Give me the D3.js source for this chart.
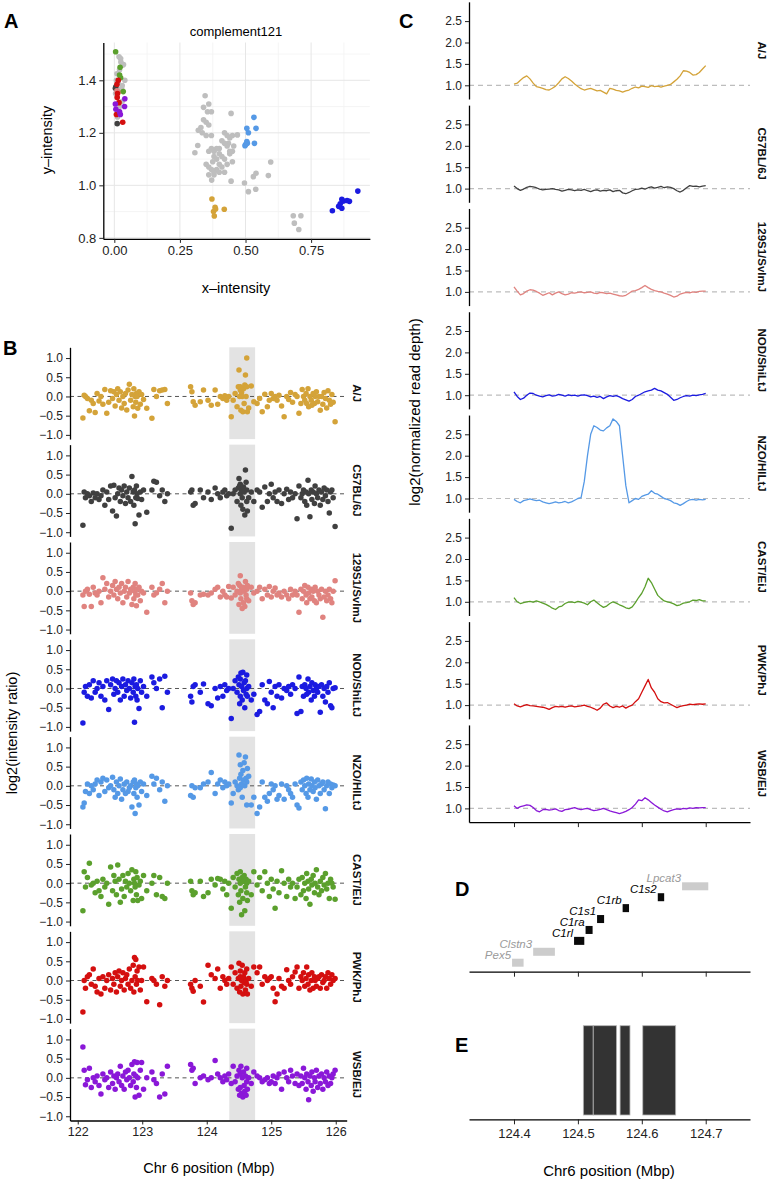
<!DOCTYPE html>
<html><head><meta charset="utf-8">
<script src="https://cdn.jsdelivr.net/npm/d3@7"></script>
<style>body{margin:0;background:#fff}svg{display:block}</style>
</head><body><svg id="c" width="768" height="1180"></svg>
<script>
const FONT = '"Liberation Sans", Arial, Helvetica, sans-serif';

// ---------- shared ----------
const strains = ["A/J","C57BL/6J","129S1/SvImJ","NOD/ShiLtJ","NZO/HlLtJ","CAST/EiJ","PWK/PhJ","WSB/EiJ"];
const strainColors = ["#D4A339","#404040","#E0837F","#1B1BE0","#5599E6","#5BA02D","#D40F0F","#8A18D8"];

// ---------- panel A ----------
const grayX = [0.024,0.032,0.040,0.010,0.035,0.020,0.015,0.028,0.005,0.020,0.012,0.030,0.025,0.018,0.008,0.030,
 0.346,0.340,0.360,0.355,0.370,0.340,0.350,0.330,0.320,0.335,0.360,0.350,0.370,0.445,0.420,0.430,0.440,0.450,0.469,0.435,
 0.430,0.420,0.410,0.400,0.390,0.380,0.370,0.360,0.380,0.390,0.400,0.410,0.420,0.440,0.450,0.430,0.410,0.400,0.390,0.380,
 0.370,0.360,0.350,0.360,0.371,0.380,0.400,0.420,0.450,0.445,0.318,0.307,0.440,0.455,0.375,
 0.496,0.511,0.539,0.530,0.540,0.587,0.596,0.682,0.711,0.686,0.703];
const grayY = [1.483,1.458,1.400,1.425,1.460,1.440,1.390,1.370,1.350,1.300,1.260,1.320,1.470,1.490,1.400,1.380,
 1.341,1.297,1.310,1.280,1.280,1.250,1.240,1.220,1.210,1.200,1.230,1.190,1.190,1.274,1.200,1.190,1.180,1.190,1.192,1.160,
 1.150,1.160,1.170,1.140,1.140,1.130,1.140,1.130,1.110,1.100,1.120,1.110,1.100,1.120,1.130,1.080,1.070,1.080,1.060,1.050,
 1.060,1.070,1.080,1.040,1.020,1.040,1.050,1.050,1.090,1.016,1.152,1.124,1.130,1.150,1.090,
 1.009,0.976,0.985,1.033,1.046,1.037,1.089,0.884,0.884,0.856,0.832];
const aStrainX = [
 [0.372,0.384,0.378,0.381,0.419,0.386],
 [0.011,0.006,0.004],
 [0.015,0.019,0.010],
 [0.831,0.867,0.861,0.874,0.896,0.928,0.855,0.867,0.887],
 [0.532,0.540,0.505,0.511,0.505,0.498,0.534,0.507,0.500],
 [0.005,0.022,0.024,0.034,0.020],
 [0.010,0.011,0.018,0.008,0.032,0.015,0.012],
 [0.004,0.040,0.039,0.023,0.006,0.020]];
const aStrainY = [
 [0.948,0.916,0.900,0.883,0.909,0.910],
 [1.235,1.375,1.370],
 [1.355,1.280,1.360],
 [0.903,0.947,0.930,0.940,0.939,0.978,0.920,0.913,0.942],
 [1.259,1.217,1.217,1.200,1.167,1.151,1.160,1.160,1.155],
 [1.509,1.450,1.410,1.357,1.420],
 [1.385,1.335,1.315,1.270,1.240,1.400,1.350],
 [1.310,1.330,1.300,1.270,1.290,1.280]];
const aXTicks = [0,0.25,0.5,0.75];
const aYTicks = [0.8,1.0,1.2,1.4];

// ---------- panel B ----------
const probePos = [
 122.08,122.10,122.12,122.15,122.18,122.21,122.24,122.27,122.30,122.33,
 122.36,122.39,122.42,122.45,122.48,122.51,122.54,122.56,122.58,122.60,
 122.62,122.64,122.66,122.68,122.70,122.72,122.74,122.76,122.78,122.80,
 122.82,122.84,122.86,122.87,122.88,122.89,122.90,122.91,122.92,122.93,
 122.95,122.97,122.99,123.02,123.07,123.15,123.18,123.22,123.27,123.31,
 123.35,123.39,
 123.75,123.77,123.79,123.82,123.90,123.95,124.02,124.07,124.13,124.17,
 124.21,124.25,124.28,124.31,124.34,
 124.38,124.41,124.44,124.47,124.49,124.50,124.51,124.52,124.52,124.53,
 124.54,124.55,124.56,124.57,124.58,124.59,124.60,124.61,124.62,124.62,
 124.63,124.65,124.69,124.73,
 124.78,124.82,124.86,124.90,124.94,124.97,125.00,125.03,125.06,125.09,
 125.12,125.16,125.20,125.24,125.27,125.30,125.33,125.37,
 125.40,125.43,125.46,125.48,125.50,125.52,125.54,125.55,125.57,125.58,
 125.60,125.62,125.63,125.65,125.67,125.68,125.70,125.72,125.74,125.76,
 125.78,125.80,125.82,125.84,125.86,125.88,125.90,125.92,125.94,125.96,
 125.99];
const ajB = [-0.56,0.03,0.0,-0.05,-0.37,-0.1,-0.18,-0.42,0.08,-0.12,
 0.0,-0.2,0.18,-0.44,-0.15,0.15,-0.05,0.12,-0.25,0.05,
 0.2,-0.1,0.12,-0.3,0.0,-0.18,0.08,-0.35,0.17,0.32,
 -0.1,0.05,-0.27,0.2,-0.51,0.0,-0.15,0.08,0.0,-0.31,
 0.12,-0.2,0.05,-0.08,-0.31,-0.57,0.18,0.0,0.15,0.17,
 0.18,-0.18,
 0.25,0.12,-0.14,-0.23,-0.14,0.17,-0.1,-0.23,0.17,-0.2,
 0.0,-0.05,0.02,-0.1,0.0,
 -0.53,-0.1,0.08,-0.27,0.25,0.69,0.0,0.17,0.25,-0.36,
 0.1,0.0,-0.4,0.2,-0.18,0.3,0.56,0.0,1.0,0.25,
 -0.4,-0.3,0.27,-0.14,
 -0.18,-0.05,-0.4,0.06,-0.27,-0.1,0.08,-0.05,0.0,-0.1,
 0.03,-0.25,-0.53,0.0,-0.08,0.1,-0.15,0.05,
 0.0,-0.44,-0.18,0.18,0.0,-0.1,0.08,-0.18,0.2,-0.27,
 0.0,-0.1,-0.23,0.08,-0.18,0.0,0.12,-0.14,0.0,-0.36,
 0.0,-0.2,0.1,-0.05,-0.3,0.15,-0.1,-0.2,0.05,-0.15,
 -0.66];
const b6B = [-0.82,0.05,-0.1,0.0,-0.05,-0.2,0.02,-0.1,0.0,-0.15,
 -0.05,0.1,-0.3,0.05,-0.15,0.2,-0.45,0.22,-0.1,-0.58,
 0.0,0.15,-0.2,0.1,-0.05,0.2,-0.25,0.05,-0.1,0.15,
 -0.2,0.45,0.05,-0.3,0.1,-0.78,-0.1,0.2,0.0,-0.12,
 -0.55,0.05,-0.15,0.1,-0.48,0.1,0.33,0.3,-0.05,0.1,
 -0.2,0.0,
 0.05,0.1,-0.3,-0.25,0.1,-0.1,0.05,-0.15,0.15,0.0,
 -0.1,0.05,0.1,-0.05,0.0,
 -0.9,0.0,0.1,-0.2,0.15,0.4,0.2,0.0,0.25,-0.3,
 0.1,-0.1,-0.4,0.18,0.05,-0.55,0.62,0.3,0.1,-0.2,
 -0.45,-0.1,0.05,-0.2,
 0.1,0.05,-0.35,0.18,-0.2,0.0,0.25,-0.1,0.05,-0.2,
 0.1,-0.25,0.0,0.12,-0.15,0.05,-0.1,0.0,
 -0.65,0.2,-0.1,0.0,0.1,-0.2,0.05,-0.3,0.35,0.0,
 -0.6,0.1,-0.15,0.05,-0.25,0.2,0.0,-0.1,0.1,-0.3,
 0.05,-0.15,0.15,-0.05,0.1,-0.2,-0.5,0.05,0.1,-0.1,
 -0.85];
const s129B = [-0.1,-0.4,0.0,0.05,-0.08,-0.4,0.1,-0.05,-0.1,0.0,
 -0.3,0.35,0.05,0.2,-0.15,0.0,0.15,-0.1,0.25,0.05,
 -0.2,0.1,-0.05,0.2,-0.3,0.0,0.1,-0.15,0.25,-0.05,
 0.05,-0.35,0.1,-0.2,0.0,0.2,-0.1,-0.38,0.05,-0.1,
 0.1,-0.25,0.0,-0.05,-0.55,0.1,-0.1,-0.05,0.05,0.2,
 -0.3,0.0,
 -0.05,-0.25,-0.35,-0.3,-0.1,-0.08,-0.1,-0.05,0.05,0.1,
 -0.15,0.0,-0.1,-0.15,0.12,
 -0.18,0.1,-0.1,0.0,0.2,-0.35,0.15,-0.05,0.4,-0.2,
 0.05,-0.45,0.1,-0.3,0.0,-0.4,0.25,-0.1,0.05,-0.2,
 0.15,-0.25,0.1,-0.05,
 0.0,0.1,-0.2,0.05,-0.1,0.12,-0.15,0.0,0.08,-0.1,
 -0.05,-0.15,0.0,-0.1,-0.2,0.05,-0.1,0.0,
 -0.1,-0.55,0.05,-0.2,0.0,0.15,-0.1,-0.3,0.1,-0.05,
 -0.2,0.05,-0.15,0.0,-0.25,0.1,-0.3,0.0,-0.1,-0.2,
 0.05,-0.68,-0.15,0.0,-0.25,-0.1,0.05,-0.2,-0.3,0.0,
 0.27];
const nodB = [-0.9,-0.1,0.05,-0.2,0.1,-0.25,0.2,-0.1,0.0,0.15,
 -0.2,0.05,-0.3,0.2,-0.55,0.1,0.25,-0.15,0.0,0.2,
 -0.1,0.15,-0.3,0.05,0.25,-0.2,0.1,-0.05,0.2,0.0,
 -0.25,0.15,-0.1,0.25,-0.88,0.05,-0.2,0.1,-0.3,0.0,
 -0.52,0.2,-0.1,0.05,-0.2,0.3,0.15,0.0,0.25,-0.5,
 0.32,-0.1,
 -0.2,-0.35,0.05,0.1,-0.1,0.12,-0.4,-0.45,0.0,-0.25,
 0.05,-0.2,0.1,-0.05,0.0,
 -0.78,0.0,0.2,-0.1,0.3,0.1,-0.4,0.25,-0.2,0.4,
 0.05,-0.3,0.42,-0.05,0.15,-0.5,0.2,-0.15,0.0,0.35,
 -0.2,0.05,-0.3,-0.15,
 -0.68,-0.6,0.1,-0.3,-0.4,0.18,-0.1,-0.5,0.05,-0.2,
 0.1,-0.25,0.0,-0.05,0.05,-0.15,0.1,0.0,
 -0.65,0.3,-0.6,0.05,-0.2,0.1,0.0,-0.15,0.25,-0.1,
 0.05,-0.3,0.15,-0.05,-0.2,0.1,0.0,-0.1,0.05,-0.62,
 0.1,-0.2,0.0,-0.35,0.05,-0.1,0.15,-0.45,-0.5,0.0,
 0.02];
const nzoB = [-0.55,-0.45,-0.15,0.05,-0.2,0.0,-0.1,0.05,0.15,-0.25,
 0.1,0.2,-0.15,0.15,-0.05,0.0,0.22,-0.1,-0.3,0.1,
 -0.2,0.0,0.18,-0.35,-0.1,0.05,-0.2,0.1,-0.15,-0.05,
 0.0,-0.55,0.1,-0.2,0.15,-0.72,-0.05,0.05,-0.3,0.0,
 -0.5,0.1,-0.15,0.05,-0.25,0.25,0.05,0.2,-0.1,0.1,
 -0.4,0.0,
 -0.25,0.0,-0.3,-0.05,-0.05,0.05,0.1,0.35,-0.2,0.05,
 0.15,-0.05,0.1,0.0,0.05,
 -0.45,-0.2,0.1,0.0,-0.1,0.8,0.2,0.55,-0.05,0.3,
 0.05,-0.3,0.4,0.15,0.6,0.0,0.75,0.2,-0.5,0.1,
 0.45,0.25,-0.5,-0.3,
 -0.72,-0.55,0.1,-0.3,-0.4,-0.2,0.05,-0.1,0.0,-0.35,
 -0.25,0.05,-0.35,0.0,-0.1,-0.2,-0.3,0.05,
 -0.5,-0.58,0.1,-0.1,0.15,0.0,-0.2,0.2,-0.3,0.05,
 -0.1,0.18,0.0,-0.15,0.1,-0.05,-0.35,0.15,0.0,-0.2,
 0.05,0.1,-0.1,-0.6,0.0,0.1,-0.2,0.05,-0.05,0.02,
 0.0];
const castB = [-0.72,0.3,-0.1,0.15,0.52,-0.05,0.0,-0.25,0.05,-0.2,
 -0.35,0.1,-0.1,0.0,-0.55,0.42,-0.2,0.2,0.05,-0.3,
 0.47,0.1,-0.5,-0.15,0.2,-0.35,0.05,-0.1,0.25,0.0,
 -0.2,0.35,-0.45,0.1,0.0,-0.1,0.3,-0.3,0.15,-0.45,
 -0.05,0.05,-0.4,0.2,-0.2,0.0,0.2,-0.3,0.15,-0.35,
 -0.4,0.0,
 0.05,-0.2,-0.3,-0.25,0.05,-0.35,-0.25,0.1,-0.05,0.12,
 0.1,-0.15,0.05,-0.3,0.0,
 -0.65,0.15,-0.1,0.25,-0.3,0.1,-0.5,0.0,0.3,-0.2,
 -0.82,0.15,-0.4,0.05,0.2,-0.72,-0.1,0.1,-0.25,0.0,
 -0.45,0.05,-0.3,0.3,
 -0.05,0.15,-0.2,0.3,0.0,-0.35,0.1,-0.15,-0.65,0.05,
 -0.25,0.32,0.0,-0.35,0.1,-0.1,0.0,-0.4,
 -0.1,0.1,-0.3,0.15,-0.2,0.0,-0.4,0.25,0.05,-0.15,
 -0.55,0.1,-0.05,0.2,-0.25,0.0,0.35,-0.1,-0.3,0.05,
 -0.2,0.15,-0.05,0.25,-0.15,0.0,-0.4,0.1,0.0,-0.1,
 -0.42];
const pwkB = [-0.82,0.0,-0.2,0.1,0.15,-0.1,0.3,-0.15,-0.3,0.05,
 -0.35,0.1,-0.2,0.0,0.15,-0.25,0.05,-0.1,0.2,-0.3,
 0.1,0.25,-0.15,0.0,0.2,-0.25,0.05,0.15,-0.1,0.3,
 -0.2,0.0,0.4,-0.3,0.6,0.1,0.55,-0.1,0.25,0.0,
 0.35,-0.25,0.0,0.35,-0.55,0.05,0.0,-0.1,-0.63,0.1,
 -0.15,0.0,
 -0.1,-0.2,-0.28,0.0,-0.15,-0.56,0.4,0.15,0.05,0.3,
 -0.2,0.1,0.0,-0.1,0.05,
 0.35,-0.1,0.2,-0.2,0.05,0.45,-0.3,0.1,0.25,-0.15,
 0.0,0.4,-0.35,0.1,-0.05,0.2,-0.25,0.0,0.3,-0.1,
 -0.35,0.05,-0.15,0.35,
 0.2,0.35,-0.1,0.1,0.0,0.05,0.1,-0.2,-0.55,-0.35,
 0.05,-0.15,-0.2,0.28,0.0,-0.1,0.1,0.22,
 0.35,-0.2,0.1,0.0,0.2,-0.15,0.05,0.35,-0.1,0.15,
 -0.25,0.0,0.2,-0.2,0.1,0.0,-0.15,0.05,0.1,-0.2,
 0.15,-0.05,0.0,0.1,-0.2,0.2,0.05,-0.1,0.15,0.0,
 0.05];
const wsbB = [0.8,0.2,-0.18,-0.05,0.25,-0.25,0.0,-0.1,0.05,-0.2,
 -0.42,0.1,-0.05,0.0,-0.25,0.15,-0.15,0.05,-0.3,0.0,
 0.1,-0.1,0.3,-0.2,0.05,-0.3,0.15,-0.05,0.2,0.0,
 -0.2,0.35,-0.1,0.1,0.42,-0.5,0.05,-0.25,0.4,0.0,
 -0.45,0.2,0.4,-0.3,0.0,0.15,-0.05,-0.15,-0.5,0.1,
 -0.42,0.3,
 0.35,0.2,0.25,-0.15,0.0,0.05,-0.05,0.0,0.45,0.1,
 0.0,-0.1,0.05,-0.05,0.1,
 -0.15,0.3,-0.1,0.05,-0.3,0.2,-0.45,0.1,-0.25,0.3,
 -0.4,0.0,-0.5,0.15,-0.2,-0.35,0.05,-0.45,0.25,-0.1,
 -0.3,0.0,-0.15,0.15,
 0.05,0.0,-0.1,-0.05,0.0,-0.15,-0.1,0.05,-0.15,0.0,
 0.1,-0.3,0.15,0.0,-0.1,0.2,0.05,-0.15,
 0.1,-0.2,0.05,-0.15,0.25,0.0,-0.3,0.1,-0.1,-0.57,
 0.05,-0.2,0.15,-0.35,0.0,-0.1,0.2,-0.25,0.05,-0.15,
 0.1,-0.3,0.0,-0.1,0.15,-0.2,0.05,-0.15,0.0,0.1,
 0.2];
const intensitySeries = [ajB,b6B,s129B,nodB,nzoB,castB,pwkB,wsbB];
const bandStart = 124.35, bandEnd = 124.75;
const bXTicks = [122,123,124,125,126];
const bYTicks = [-1,-0.5,0,0.5,1];

// ---------- panel C ----------
const depthPos = [124.400,124.405,124.410,124.415,124.420,124.425,124.430,124.435,124.440,124.445,
 124.450,124.455,124.460,124.465,124.470,124.475,124.480,124.485,124.490,124.495,
 124.500,124.505,124.510,124.515,124.520,124.525,124.530,124.535,124.540,124.545,
 124.550,124.555,124.560,124.565,124.570,124.575,124.580,124.585,124.590,124.595,
 124.600,124.605,124.610,124.615,124.620,124.625,124.630,124.635,124.640,124.645,
 124.650,124.655,124.660,124.665,124.670,124.675,124.680,124.685,124.690,124.695,
 124.700];
const ajC = [1.03,1.05,1.12,1.18,1.22,1.15,1.05,0.97,0.95,0.93,
 0.90,0.89,0.93,0.98,1.06,1.15,1.20,1.16,1.10,1.03,
 0.97,0.92,0.89,0.91,0.93,0.90,0.87,0.88,0.84,0.80,
 0.93,0.91,0.88,0.87,0.84,0.87,0.89,0.93,0.96,0.94,
 0.98,0.97,0.95,0.99,0.97,0.98,0.96,0.98,1.00,1.02,
 1.08,1.14,1.22,1.34,1.33,1.30,1.24,1.25,1.30,1.38,
 1.46];
const b6C = [1.06,1.0,0.96,0.99,1.03,1.05,1.04,1.02,0.99,0.97,
 0.98,0.99,1.0,0.98,0.97,0.94,0.96,0.98,0.97,0.95,
 0.97,0.96,0.98,0.95,0.93,0.96,0.97,0.94,0.96,0.95,
 0.97,0.93,0.95,0.96,0.9,0.88,0.91,0.95,0.98,0.99,
 1.01,0.99,1.02,1.04,1.01,1.03,1.05,1.02,1.04,1.03,
 1.0,0.95,0.92,0.96,1.02,1.07,1.05,1.06,1.04,1.06,
 1.07];
const s129C = [1.12,1.02,0.93,0.96,1.02,1.05,1.04,1.01,0.97,0.92,
 0.95,0.98,0.93,0.97,1.0,0.96,0.93,0.95,0.98,0.97,
 0.99,1.0,0.98,0.99,1.0,0.97,0.96,0.99,0.98,0.96,
 0.97,0.95,0.93,0.91,0.9,0.92,0.97,1.02,1.03,1.06,
 1.1,1.15,1.1,1.06,1.03,1.01,1.0,0.97,0.95,0.92,
 0.88,0.9,0.95,0.97,0.99,0.98,1.0,0.99,1.01,1.02,
 1.02];
const nodC = [1.08,0.97,0.9,0.93,1.0,1.05,1.04,1.0,0.98,0.96,
 0.99,1.01,0.98,0.99,1.02,1.0,0.98,1.01,0.99,1.0,
 0.98,1.0,1.01,0.99,0.96,0.98,0.95,0.97,0.92,0.96,
 0.99,0.97,0.99,0.96,0.92,0.89,0.86,0.9,0.97,1.0,
 1.04,1.08,1.1,1.12,1.16,1.12,1.1,1.06,1.02,0.95,
 0.88,0.9,0.94,0.97,0.99,0.98,1.0,0.99,1.01,1.02,
 1.04];
const nzoC = [0.98,0.93,0.90,0.95,0.97,0.99,0.97,0.95,0.96,0.92,
 0.90,0.88,0.90,0.92,0.90,0.91,0.93,0.90,0.92,0.96,
 1.00,1.02,1.40,2.00,2.50,2.70,2.66,2.60,2.58,2.65,
 2.70,2.86,2.80,2.70,2.00,1.30,0.90,0.95,1.00,0.98,
 1.05,1.08,1.10,1.18,1.12,1.10,1.05,1.00,0.98,0.95,
 0.90,0.88,0.84,0.88,0.93,0.97,0.98,0.96,0.98,0.97,
 0.98];
const castC = [1.1,1.0,0.96,0.98,1.0,1.01,0.99,1.02,1.0,0.97,
 0.94,0.9,0.85,0.82,0.88,0.9,0.96,0.99,1.0,0.98,
 1.01,0.99,0.97,0.93,1.0,1.04,0.98,0.92,0.87,0.9,
 0.96,1.0,0.97,0.93,0.9,0.86,0.84,0.88,0.98,1.1,
 1.2,1.35,1.55,1.45,1.3,1.15,1.08,1.02,1.0,0.98,
 0.95,0.91,0.93,0.97,0.98,1.0,1.04,1.03,1.05,1.02,
 1.02];
const pwkC = [1.03,0.98,0.96,0.99,1.01,0.99,0.98,0.97,0.96,0.95,
 0.93,0.9,0.94,0.97,0.96,0.97,0.95,0.97,0.98,0.96,
 0.97,0.98,1.0,0.97,0.95,0.92,0.88,0.93,1.02,1.05,
 0.98,0.94,0.97,0.95,0.98,0.93,0.97,1.0,1.08,1.15,
 1.3,1.45,1.6,1.4,1.3,1.15,1.08,1.05,1.06,1.02,
 0.98,0.94,0.97,0.99,1.0,1.02,1.01,1.02,1.03,1.02,
 1.03];
const wsbC = [1.06,1.0,1.04,1.06,1.08,1.07,1.02,0.95,0.92,0.97,
 0.98,0.96,0.97,0.99,0.95,0.93,0.97,0.98,1.0,1.02,
 0.99,0.97,0.99,1.0,0.97,0.95,0.96,0.98,1.0,0.97,
 0.94,0.92,0.9,0.88,0.9,0.93,0.97,1.02,1.1,1.2,
 1.18,1.25,1.2,1.14,1.08,1.03,0.98,0.94,0.92,0.95,
 0.97,0.99,0.98,1.0,0.99,1.01,1.0,1.02,1.01,1.02,
 1.02];
const depthSeries = [ajC,b6C,s129C,nodC,nzoC,castC,pwkC,wsbC];
const cYTicks = [1.0,1.5,2.0,2.5];
const posTicks = [124.4,124.5,124.6,124.7];

// ---------- panel D ----------
const geneNames = ["Pex5","Clstn3","C1rl","C1ra","C1s1","C1rb","C1s2","Lpcat3"];
const geneStart = [124.397,124.430,124.494,124.512,124.530,124.570,124.625,124.663];
const geneEnd   = [124.415,124.464,124.510,124.523,124.541,124.580,124.635,124.704];
const geneRow   = [0,1,2,3,4,5,6,7];
const geneIsComplement = [false,false,true,true,true,true,true,false];

// ---------- panel E ----------
const segStart = [124.5085,124.5240,124.5660,124.6015];
const segEnd   = [124.5240,124.5605,124.5815,124.6530];

// =================== drawing ===================
const svg = d3.select("#c");
svg.append("rect").attr("width",768).attr("height",1180).attr("fill","#fff");

function styleAxis(g, fs){
  g.attr("font-family", FONT);
  g.select(".domain").attr("stroke","#000").attr("stroke-width",1.3);
  g.selectAll(".tick line").attr("stroke","#222").attr("stroke-width",1);
  g.selectAll(".tick text").attr("fill","#222").attr("font-size",fs);
}
function label(x,y,txt,opts={}){
  const t = svg.append("text").attr("x",x).attr("y",y).text(txt)
    .attr("font-family",FONT).attr("font-size",opts.size||14)
    .attr("fill",opts.fill||"#000")
    .attr("text-anchor",opts.anchor||"middle");
  if(opts.weight) t.attr("font-weight",opts.weight);
  if(opts.style) t.attr("font-style",opts.style);
  if(opts.rotate!==undefined) t.attr("transform",`rotate(${opts.rotate},${x},${y})`);
  return t;
}
function stripLabel(x,yc,txt){
  svg.append("text").attr("transform",`translate(${x},${yc}) rotate(90)`)
    .attr("text-anchor","middle").attr("dy","0.35em")
    .attr("font-family",FONT).attr("font-size",11.5).attr("font-weight","bold")
    .attr("fill","#111").text(txt);
}

// ---- Panel A ----
const ax = d3.scaleLinear().domain([-0.042,0.974]).range([103.3,369.9]);
const ay = d3.scaleLinear().domain([0.796,1.544]).range([238.9,42.5]);
const gA = svg.append("g");
[0.125,0.375,0.625,0.875].forEach(v=>gA.append("line").attr("x1",ax(v)).attr("x2",ax(v)).attr("y1",ay.range()[0]).attr("y2",ay.range()[1]).attr("stroke","#f2f2f2").attr("stroke-width",0.8));
[0.9,1.1,1.3,1.5].forEach(v=>gA.append("line").attr("y1",ay(v)).attr("y2",ay(v)).attr("x1",ax.range()[0]).attr("x2",ax.range()[1]).attr("stroke","#f2f2f2").attr("stroke-width",0.8));
aXTicks.forEach(v=>gA.append("line").attr("x1",ax(v)).attr("x2",ax(v)).attr("y1",ay.range()[0]).attr("y2",ay.range()[1]).attr("stroke","#e6e6e6").attr("stroke-width",1));
aYTicks.forEach(v=>gA.append("line").attr("y1",ay(v)).attr("y2",ay(v)).attr("x1",ax.range()[0]).attr("x2",ax.range()[1]).attr("stroke","#e6e6e6").attr("stroke-width",1));
gA.selectAll("circle.g").data(grayX.map((x,i)=>[x,grayY[i]])).join("circle")
  .attr("cx",d=>ax(d[0])).attr("cy",d=>ay(d[1])).attr("r",2.8).attr("fill","#BEBEBE");
aStrainX.forEach((xs,s)=>{
  gA.append("g").selectAll("circle").data(xs.map((x,i)=>[x,aStrainY[s][i]])).join("circle")
    .attr("cx",d=>ax(d[0])).attr("cy",d=>ay(d[1])).attr("r",2.8).attr("fill",strainColors[s]);
});
const axA = svg.append("g").attr("transform",`translate(0,${ay.range()[0]})`)
  .call(d3.axisBottom(ax).tickValues(aXTicks).tickFormat(d3.format(".2f")).tickSize(4).tickSizeOuter(0).tickPadding(3));
styleAxis(axA,13);
const ayA = svg.append("g").attr("transform",`translate(${ax.range()[0]},0)`)
  .call(d3.axisLeft(ay).tickValues(aYTicks).tickFormat(d3.format(".1f")).tickSize(4).tickSizeOuter(0).tickPadding(3));
styleAxis(ayA,13);
label(236,36,"complement121",{size:13});
label(236,293,"x\u2013intensity",{size:14.5});
label(52,140,"y\u2013intensity",{size:14.5,rotate:-90});
label(4,28,"A",{size:20,weight:"bold",anchor:"start"});

// ---- Panel B ----
const bX = d3.scaleLinear().domain([121.88,126.17]).range([70,346.7]);
const bTop0 = 347.3, bPitch = 97.34, bH = 91.8;
strains.forEach((s,i)=>{
  const top = bTop0 + i*bPitch;
  const by = d3.scaleLinear().domain([-1.11,1.28]).range([top+bH, top]);
  const g = svg.append("g");
  g.append("rect").attr("x",bX(bandStart)).attr("width",bX(bandEnd)-bX(bandStart))
    .attr("y",top).attr("height",bH).attr("fill","#e3e3e3");
  g.append("line").attr("x1",bX.range()[0]).attr("x2",bX.range()[1]).attr("y1",by(0)).attr("y2",by(0))
    .attr("stroke","#555").attr("stroke-width",1).attr("stroke-dasharray","4,3.5");
  const vals = intensitySeries[i];
  g.selectAll("circle").data(probePos.map((p,k)=>[p,vals[k]]).filter(d=>d[1]!==undefined)).join("circle")
    .attr("cx",d=>bX(d[0])).attr("cy",d=>by(d[1])).attr("r",2.75).attr("fill",strainColors[i]);
  const yax = svg.append("g").attr("transform",`translate(${bX.range()[0]},0)`)
    .call(d3.axisLeft(by).tickValues(bYTicks).tickFormat(d3.format(".1f")).tickSize(4).tickSizeOuter(0).tickPadding(3));
  styleAxis(yax,12);
  stripLabel(357, top+bH/2, s);
});
const bxAxis = svg.append("g").attr("transform",`translate(0,${bTop0+7*bPitch+bH})`)
  .call(d3.axisBottom(bX).tickValues(bXTicks).tickFormat(d3.format("d")).tickSize(4).tickSizeOuter(0).tickPadding(3));
styleAxis(bxAxis,12.5);
label(209,1173,"Chr 6 position (Mbp)",{size:14.5});
label(17,733,"log2(intensity ratio)",{size:14.5,rotate:-90});
label(3,355,"B",{size:20,weight:"bold",anchor:"start"});

// ---- Panel C ----
const cX = d3.scaleLinear().domain([124.3296,124.7693]).range([469,750]);
const cPitch = 103.3, cOne0 = 85.3, cUnit = 42.8;
const cLo = 0.68, cHi = 2.95;
strains.forEach((s,i)=>{
  const y1 = cOne0 + i*cPitch;
  const top = y1 - (cHi-1)*cUnit, bot = y1 + (1-cLo)*cUnit;
  const cy = d3.scaleLinear().domain([cLo,cHi]).range([bot,top]);
  const g = svg.append("g");
  g.append("line").attr("x1",cX.range()[0]).attr("x2",cX.range()[1]).attr("y1",cy(1)).attr("y2",cy(1))
    .attr("stroke","#bdbdbd").attr("stroke-width",1.2).attr("stroke-dasharray","5,4");
  const line = d3.line().x(d=>cX(d[0])).y(d=>cy(d[1]));
  g.append("path").datum(depthPos.map((p,k)=>[p,depthSeries[i][k]]).filter(d=>d[1]!==undefined))
    .attr("d",line).attr("fill","none").attr("stroke",strainColors[i]).attr("stroke-width",1.3)
    .attr("stroke-linejoin","round");
  const yax = svg.append("g").attr("transform",`translate(${cX.range()[0]},0)`)
    .call(d3.axisLeft(cy).tickValues(cYTicks).tickFormat(d3.format(".1f")).tickSize(4).tickSizeOuter(0).tickPadding(3));
  styleAxis(yax,12);
  stripLabel(762, (top+bot)/2, s);
});
const cBottom = cOne0 + 7*cPitch + (1-cLo)*cUnit;
const cxAxis = svg.append("g").attr("transform",`translate(0,${cBottom})`)
  .call(d3.axisBottom(cX).tickValues(posTicks).tickFormat("").tickSize(5).tickSizeOuter(0));
styleAxis(cxAxis,12);
label(420,412,"log2(normalized read depth)",{size:15,rotate:-90});
label(399,28,"C",{size:20,weight:"bold",anchor:"start"});

// ---- Panel D ----
const dAxisY = 971.7;
const dRow = d3.scaleLinear().domain([0,7]).range([962.7,886.3]);
const boxH = 8;
const gD = svg.append("g");
geneNames.forEach((n,i)=>{
  const x0 = cX(geneStart[i]), x1 = cX(geneEnd[i]);
  const yc = dRow(geneRow[i]);
  gD.append("rect").attr("x",x0).attr("width",x1-x0).attr("y",yc-boxH/2).attr("height",boxH)
    .attr("fill",geneIsComplement[i]?"#0a0a0a":"#cccccc");
  gD.append("text").attr("x",x0-1).attr("y",yc-boxH/2).attr("text-anchor","end")
    .attr("font-family",FONT).attr("font-size",11.5).attr("font-style","italic")
    .attr("fill",geneIsComplement[i]?"#000":"#9a9a9a").text(n);
});
const dxAxis = svg.append("g").attr("transform",`translate(0,${dAxisY})`)
  .call(d3.axisBottom(cX).tickValues(posTicks).tickFormat("").tickSize(5).tickSizeOuter(0));
styleAxis(dxAxis,12);
label(455,896,"D",{size:20,weight:"bold",anchor:"start"});

// ---- Panel E ----
const eAxisY = 1119.3;
const eY = d3.scaleLinear().domain([0,1]).range([1115,1025.7]);
const gE = svg.append("g");
segStart.forEach((s,i)=>{
  gE.append("rect").attr("x",cX(s)).attr("width",cX(segEnd[i])-cX(s))
    .attr("y",eY(1)).attr("height",eY(0)-eY(1))
    .attr("fill","#333").attr("stroke","#b5b5b5").attr("stroke-width",0.8);
});
const exAxis = svg.append("g").attr("transform",`translate(0,${eAxisY})`)
  .call(d3.axisBottom(cX).tickValues(posTicks).tickFormat(d3.format(".1f")).tickSize(5).tickSizeOuter(0).tickPadding(4));
styleAxis(exAxis,13);
label(609,1176,"Chr6 position (Mbp)",{size:15});
label(455,1052,"E",{size:20,weight:"bold",anchor:"start"});
</script></body></html>
